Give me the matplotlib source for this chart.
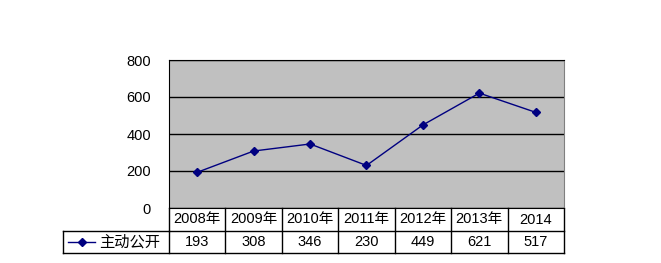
import matplotlib.pyplot as plt
from matplotlib.lines import Line2D

plt.rcParams['font.family'] = ['Liberation Sans', 'Noto Sans CJK SC', 'DejaVu Sans']

years = ['2008年', '2009年', '2010年', '2011年', '2012年', '2013年', '2014']
values = [193, 308, 346, 230, 449, 621, 517]
series_name = '主动公开'

W, H = 661, 263
fig = plt.figure(figsize=(W / 100, H / 100), dpi=100)
fig.patch.set_facecolor('white')

# plot area in pixels
x0, x1, y_top, y_bot = 169, 564, 60, 208
ax = fig.add_axes([x0 / W, 1 - y_bot / H, (x1 - x0) / W, (y_bot - y_top) / H])
ax.set_facecolor('#C0C0C0')

xs = list(range(len(years)))
ax.plot(xs, values, color='#000080', lw=1, marker='D', ms=4.5,
        mfc='#000080', mec='#000080')
ax.set_xlim(-0.5, len(years) - 0.5)
ax.set_ylim(0, 800)
ax.set_yticks([0, 200, 400, 600, 800])
ax.set_xticks([])
ax.yaxis.grid(True, color='black', lw=1)
ax.set_axisbelow(True)
ax.tick_params(axis='y', length=0, pad=13, labelsize=10.5)
ax.spines['left'].set_color('black')
ax.spines['top'].set_color('black')
ax.spines['bottom'].set_color('black')
ax.spines['right'].set_color('#808080')

# data table below the plot
row1_top, row1_bot, row2_bot = 208, 231, 253
label_left = 63
tr = ax.get_xaxis_transform()


def fy(py):
    # pixel y (from top) -> axes fraction
    return (y_bot - py) / (y_bot - y_top)


def hline(px_left, px_right, py):
    fig.add_artist(Line2D([px_left / W, px_right / W], [1 - py / H, 1 - py / H],
                          color='black', lw=1, transform=fig.transFigure))


def vline(px, py_a, py_b):
    fig.add_artist(Line2D([px / W, px / W], [1 - py_a / H, 1 - py_b / H],
                          color='black', lw=1, transform=fig.transFigure))


hline(x0, x1, row1_bot)
hline(label_left, x1, row2_bot)
hline(label_left, x0, row1_bot)
vline(label_left, row1_bot, row2_bot)
for i in range(len(years) + 1):
    ax.plot([i - 0.5, i - 0.5], [fy(row1_top), fy(row2_bot)], color='black',
            lw=1, transform=tr, clip_on=False)

for i, (yr, v) in enumerate(zip(years, values)):
    ax.text(i, fy((row1_top + row1_bot) / 2), yr, transform=tr, ha='center',
            va='center', fontsize=10.5, clip_on=False)
    ax.text(i, fy((row1_bot + row2_bot) / 2), str(v), transform=tr, ha='center',
            va='center', fontsize=10.5, clip_on=False)

# legend key in the row label cell
ky = 1 - ((row1_bot + row2_bot) / 2) / H
fig.add_artist(Line2D([68 / W, 95 / W], [ky, ky], color='#000080', lw=1,
                      transform=fig.transFigure))
fig.add_artist(Line2D([81.5 / W], [ky], color='#000080', marker='D', ms=4.5,
                      transform=fig.transFigure))
fig.text(99 / W, ky, series_name, ha='left', va='center', fontsize=11)

fig.savefig('out.png', dpi=100, facecolor='white')
